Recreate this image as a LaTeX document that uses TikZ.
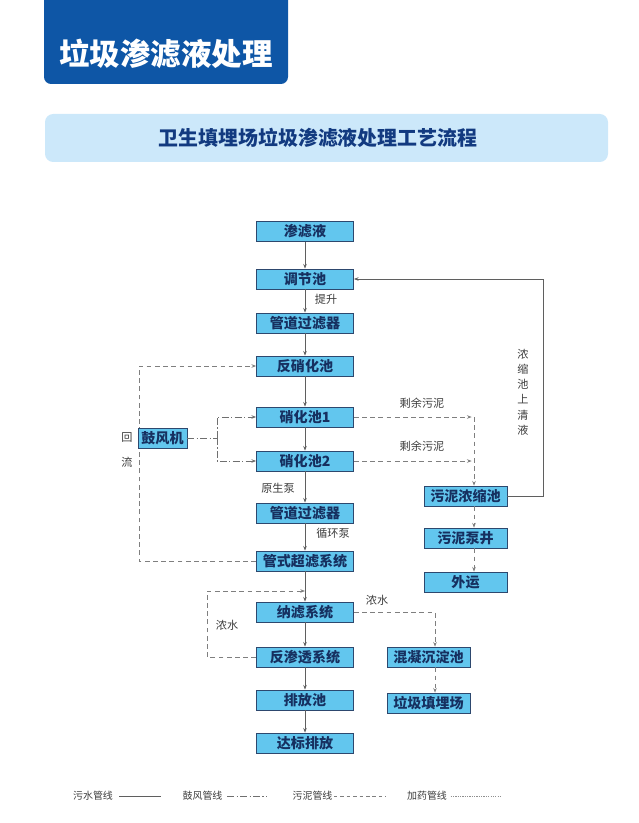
\documentclass[tikz,border=0pt]{standalone}
\usepackage{fontspec}
\setmainfont{Noto Sans CJK SC}
\usetikzlibrary{arrows.meta}
\definecolor{hdrblue}{RGB}{14,86,166}
\definecolor{barblue}{RGB}{204,232,250}
\definecolor{barnavy}{RGB}{18,58,128}
\definecolor{boxblue}{RGB}{98,198,238}
\definecolor{boxline}{RGB}{45,72,110}
\definecolor{txtnavy}{RGB}{22,48,96}
\definecolor{pipegray}{RGB}{95,95,95}
\definecolor{lblgray}{RGB}{60,60,60}
\begin{document}
\begin{tikzpicture}[x=0.03cm, y=-0.03cm, >={Stealth[length=4pt,width=3pt]},
	proc/.style={draw=boxline, fill=boxblue, line width=0.6pt, minimum width=2.91cm,
		minimum height=0.6cm, inner sep=0pt, text=txtnavy,
		font=\fontsize{12}{12}\selectfont\bfseries},
	lbl/.style={inner sep=0pt, text=lblgray, font=\fontsize{9.5}{11}\selectfont},
	legend/.style={inner sep=0pt, text=lblgray, font=\fontsize{8.5}{9}\selectfont},
	water/.style={draw=pipegray, line width=0.7pt},
	air/.style={draw=pipegray!90, line width=0.7pt, dash pattern=on 6pt off 2pt on 1pt off 2pt},
	sludge/.style={draw=pipegray!80, line width=0.7pt, dash pattern=on 4pt off 3pt},
	dosing/.style={draw=pipegray!70, line width=0.6pt, dash pattern=on 1pt off 1pt}]
	\useasboundingbox (0,0) rectangle (638,823);
	
	% HEADER
	\begin{scope}
		\clip (0,0) rectangle (638,823);
		\fill[hdrblue, rounded corners=6pt] (44,-20) rectangle (288,84);
	\end{scope}
	\node[text=white, font=\fontsize{26}{26}\selectfont\bfseries] (hdr) at (166,54) {垃圾渗滤液处理};
	
	% TITLE BAR
	\fill[barblue, rounded corners=7pt] (45,114) rectangle (608,162);
	\node[text=barnavy, font=\fontsize{17}{17}\selectfont\bfseries] (ttl) at (318,138) {卫生填埋场垃圾渗滤液处理工艺流程};
	
	% MAIN COLUMN
	\node[proc] (sll) at (305,231.5) {渗滤液};
	\node[proc] (tjc) at (305,279) {调节池};
	\node[proc] (gd1) at (305,323) {管道过滤器};
	\node[proc] (fxh) at (305,366) {反硝化池};
	\node[proc] (xh1) at (305,417) {硝化池1};
	\node[proc] (xh2) at (305,461) {硝化池2};
	\node[proc] (gd2) at (305,513) {管道过滤器};
	\node[proc] (uf) at (305,561) {管式超滤系统};
	\node[proc] (nf) at (305,612) {纳滤系统};
	\node[proc] (ro) at (305,657) {反渗透系统};
	\node[proc] (pfc) at (305,700) {排放池};
	\node[proc] (dbpf) at (305,743) {达标排放};
	
	% SLUDGE AND CONCENTRATE BOXES
	\node[proc, minimum width=2.49cm] (wnn) at (465.5,496) {污泥浓缩池};
	\node[proc, minimum width=2.49cm] (wnb) at (465.5,538) {污泥泵井};
	\node[proc, minimum width=2.49cm] (wy) at (465.5,582) {外运};
	\node[proc, minimum width=2.49cm] (hn) at (428.5,657) {混凝沉淀池};
	\node[proc, minimum width=2.49cm] (ljt) at (428.5,703) {垃圾填埋场};
	
	% water line
	\foreach \a/\b in {sll/tjc, tjc/gd1, gd1/fxh, fxh/xh1, xh1/xh2, xh2/gd2, gd2/uf, uf/nf, nf/ro, ro/pfc, pfc/dbpf}
		\draw[water, ->] (\a) -- (\b);
	\node[lbl] (ts) at (326,299) {提升};
	\node[lbl] (ysb) at (278,488) {原生泵};
	\node[lbl] (xhb) at (333,533) {循环泵};
	
	% return flow
	\coordinate (hl) at (139,460);
	\draw[sludge, ->] (uf.west) -| (hl) |- (fxh.west);
	\node[lbl] (hui) at (127,437) {回};
	\node[lbl] (liu) at (127,462) {流};
	
	% blower
	\node[proc, minimum width=1.47cm] (gfj) at (162.5,438) {鼓风机};
	\coordinate (air) at (217,438);
	\draw[air] (gfj.east) -- (air);
	\draw[air, ->] (air) |- (xh1.west);
	\draw[air, ->] (air) |- (xh2.west);
	
	% excess sludge
	\coordinate (snj) at (474,417);
	\draw[sludge, ->, shorten >=2pt] (xh1.east) -- (xh1.east -| snj);
	\draw[sludge, ->, shorten >=2pt] (xh2.east) -- (xh2.east -| snj);
	\draw[sludge, ->] (snj) -- (snj |- wnn.north);
	\draw[sludge, ->] (wnn.south -| snj) -- (wnb.north -| snj);
	\draw[sludge, ->] (wnb.south -| snj) -- (wy.north -| snj);
	\node[lbl] (sy1) at (422,403) {剩余污泥};
	\node[lbl] (sy2) at (422,446) {剩余污泥};
	
	% supernatant back to tank
	\coordinate (sqy) at (543,279);
	\draw[water, ->] (wnn.east) -| (sqy) -- (tjc.east);
	\node[lbl, align=center, font=\fontsize{9.5}{13}\selectfont] (nsq) at (523,392) {浓\\缩\\池\\上\\清\\液};
	
	% concentrate
	\coordinate (nsr) at (435,612);
	\draw[sludge, ->] (nf.east) -- (nsr) -- (hn.north -| nsr);
	\draw[sludge, ->] (hn.south -| nsr) -- (ljt.north -| nsr);
	\node[lbl] (ns1) at (377,600) {浓水};
	\coordinate (nsl) at (207,591);
	\draw[sludge, ->] (ro.west) -| (nsl) -- (nsl -| nf);
	\node[lbl] (ns2) at (227,625) {浓水};
	
	% LEGEND
	\node[legend] (lg1) at (93,796) {污水管线};
	\draw[water] ([xshift=5pt]lg1.east) -- ++(42,0);
	\node[legend] (lg2) at (202.5,796) {鼓风管线};
	\draw[air, line width=0.6pt] ([xshift=4pt]lg2.east) -- ++(40,0);
	\node[legend] (lg3) at (312.5,796) {污泥管线};
	\draw[sludge, line width=0.6pt, dash pattern=on 3pt off 2.5pt] ([xshift=1pt]lg3.east) -- ++(52,0);
	\node[legend] (lg4) at (427,796) {加药管线};
	\draw[dosing] ([xshift=3pt]lg4.east) -- ++(50,0);
\end{tikzpicture}
\end{document}
